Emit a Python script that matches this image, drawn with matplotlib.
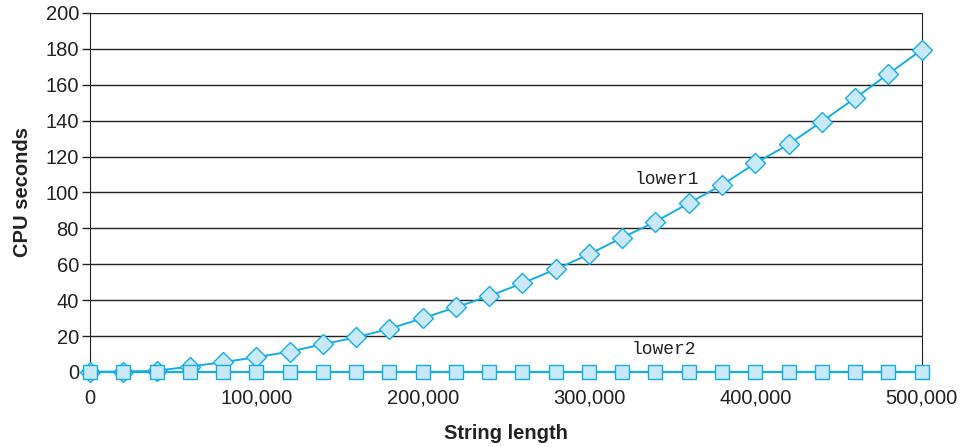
import matplotlib.pyplot as plt
from matplotlib.ticker import FuncFormatter

# string lengths and CPU seconds
lengths = [0, 20000, 40000, 60000, 80000, 100000, 120000, 140000, 160000,
           180000, 200000, 220000, 240000, 260000, 280000, 300000, 320000,
           340000, 360000, 380000, 400000, 420000, 440000, 460000, 480000,
           500000]
lower1 = [0.0, 0.2, 0.6, 3.0, 5.4, 8.2, 11.3, 15.4, 19.3, 24.0, 29.9, 36.0,
          42.3, 49.4, 57.2, 65.5, 74.8, 83.7, 94.0, 104.2, 116.2, 126.8,
          139.5, 152.5, 166.0, 179.4]
lower2 = [0.0] * len(lengths)

line_color = "#16ade6"
face_color = "#c9e8f8"

plt.rcParams['font.family'] = ['Liberation Sans', 'DejaVu Sans']

fig = plt.figure(figsize=(9.62, 4.47), dpi=100)
ax = fig.add_axes([0.0936, 0.168, 0.8644, 0.803])

ax.plot(lengths, lower1, color=line_color, lw=1.4, marker='D', ms=9.8,
        markerfacecolor=face_color, markeredgecolor=line_color, mew=1.0,
        clip_on=False, zorder=3)
ax.plot(lengths, lower2, color=line_color, lw=1.6, marker='s', ms=9.6,
        markerfacecolor=face_color, markeredgecolor=line_color, mew=1.0,
        clip_on=False, zorder=3)

ax.text(347000, 107, "lower1", family='Liberation Mono', fontsize=13,
        ha='center', va='center', color='#222222')
ax.text(345000, 12.3, "lower2", family='Liberation Mono', fontsize=13,
        ha='center', va='center', color='#222222')

ax.set_xlim(0, 500000)
ax.set_ylim(0, 200)
ax.set_yticks(range(0, 201, 20))
ax.set_xticks(range(0, 500001, 100000))
ax.xaxis.set_major_formatter(FuncFormatter(lambda v, p: f"{int(v):,}"))

ax.yaxis.grid(True, color='#222222', lw=1.0)
ax.set_axisbelow(True)
for s in ['top', 'bottom']:
    ax.spines[s].set_visible(False)
ax.spines['left'].set_color('#222222')
ax.spines['right'].set_color('#222222')
ax.spines['left'].set_bounds(-3, 200)

ax.tick_params(axis='y', length=6, width=1, color='#222222', labelsize=14.5,
               labelcolor='#222222', pad=2)
ax.tick_params(axis='x', length=0, labelsize=14.5, labelcolor='#222222', pad=12)

ax.set_xlabel("String length", fontsize=14.5, fontweight='bold',
              color='#222222', labelpad=12)
ax.set_ylabel("CPU seconds", fontsize=14.5, fontweight='bold',
              color='#222222', labelpad=10)

fig.savefig("out.png", dpi=100)
